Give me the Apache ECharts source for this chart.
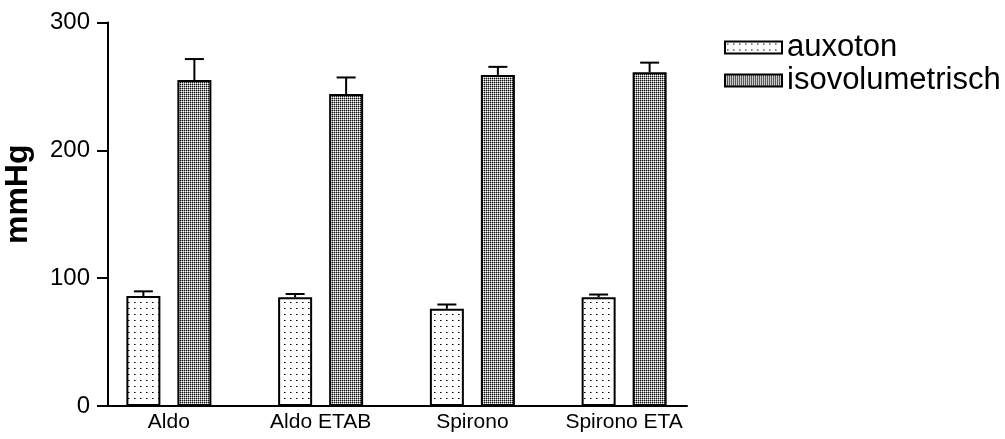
<!DOCTYPE html>
<html>
<head>
<meta charset="utf-8">
<style>
  html, body { margin: 0; padding: 0; background: #fff; }
  #chart { width: 1005px; height: 439px; }
</style>
<script src="https://cdn.jsdelivr.net/npm/echarts@6/dist/echarts.min.js"></script>
</head>
<body>
<div id="chart"></div>
<script>
// Pressure per protocol (mean and upper SEM)
const categories = ['Aldo', 'Aldo ETAB', 'Spirono', 'Spirono ETA'];
const seriesNames = ['auxoton', 'isovolumetrisch'];
const auxoton = [86, 85, 76, 85];
const auxotonErr = [3.7, 2.6, 3.4, 2.2];
const isovol = [255, 244, 259, 261];
const isovolErr = [16.4, 13, 6.3, 7.6];
const yTicks = [0, 100, 200, 300];

const FONT = '"Liberation Sans", Arial, Helvetica, sans-serif';
const BAR_W = 34;           // px
const BAR_GAP = '50%';
const HALF_OFFSET = BAR_W * 0.75; // centre of each bar relative to the category centre

// Dot-fill textures drawn on small tiles
function makeTile(size, pixels) {
  const c = document.createElement('canvas');
  c.width = size; c.height = size;
  const ctx = c.getContext('2d');
  ctx.fillStyle = '#fff';
  ctx.fillRect(0, 0, size, size);
  pixels.forEach(([x, y, col]) => { ctx.fillStyle = col; ctx.fillRect(x, y, 1, 1); });
  return c;
}
const sparseDots = makeTile(6, [[2, 2, '#000'], [3, 2, '#777']]);
const denseDots = makeTile(2, [[0, 0, '#111'], [1, 0, '#999'], [0, 1, '#999']]);

function errorSeries(values, errs, side) {
  return {
    type: 'custom',
    xAxisIndex: 0,
    yAxisIndex: 0,
    silent: true,
    z: 1,
    data: values.map((v, i) => [i, v, errs[i]]),
    renderItem(params, api) {
      const i = api.value(0);
      const top = api.coord([i, api.value(1)]);
      const cap = api.coord([i, api.value(1) + api.value(2)]);
      const x = top[0] + side * HALF_OFFSET;
      const style = { stroke: '#000', lineWidth: 2 };
      return {
        type: 'group',
        children: [
          { type: 'line', shape: { x1: x, y1: top[1], x2: x, y2: cap[1] }, style },
          { type: 'line', shape: { x1: x - 9.5, y1: cap[1], x2: x + 9.5, y2: cap[1] }, style }
        ]
      };
    }
  };
}

const chart = echarts.init(document.getElementById('chart'), null, { renderer: 'canvas' });
chart.setOption({
  animation: false,
  backgroundColor: '#fff',
  textStyle: { fontFamily: FONT, color: '#000' },
  grid: [
    { left: 93, right: 305, top: 22.5, bottom: 33, outerBoundsMode: 'none' },   // bars
    { left: 108, right: 318, top: 22.5, bottom: 33, outerBoundsMode: 'none' }   // visible axes
  ],
  legend: {
    orient: 'vertical',
    left: 719,
    top: 27,
    itemWidth: 57,
    itemHeight: 12,
    itemGap: 2,
    icon: 'rect',
    textStyle: { fontFamily: FONT, fontSize: 31, lineHeight: 31, color: '#000' },
    data: seriesNames
  },
  xAxis: [
    {
      type: 'category', gridIndex: 0, data: categories,
      axisLine: { show: false }, axisTick: { show: false },
      axisLabel: { interval: 0, fontFamily: FONT, fontSize: 21, color: '#000', margin: 6 }
    },
    {
      type: 'category', gridIndex: 1, data: categories,
      axisLine: { show: true, lineStyle: { color: '#000', width: 2 } },
      axisTick: { show: false }, axisLabel: { show: false }
    }
  ],
  yAxis: [
    {
      type: 'value', gridIndex: 0, min: yTicks[0], max: yTicks[yTicks.length - 1],
      interval: 100, show: false, splitLine: { show: false }
    },
    {
      type: 'value', gridIndex: 1, min: yTicks[0], max: yTicks[yTicks.length - 1],
      interval: 100,
      name: 'mmHg', nameLocation: 'middle', nameGap: 74,
      nameTextStyle: { fontFamily: FONT, fontSize: 32, fontWeight: 'bold', color: '#000', padding: [0, 0, 0, 40] },
      axisLine: { show: true, lineStyle: { color: '#000', width: 2 } },
      axisTick: { show: true, length: 11, lineStyle: { color: '#000', width: 2 } },
      axisLabel: { fontFamily: FONT, fontSize: 24, color: '#000', margin: 18 },
      splitLine: { show: false }
    }
  ],
  series: [
    {
      name: seriesNames[0], type: 'bar', xAxisIndex: 0, yAxisIndex: 0,
      data: auxoton, barWidth: BAR_W, barGap: BAR_GAP, z: 2,
      itemStyle: { color: { image: sparseDots, repeat: 'repeat' }, borderColor: '#000', borderWidth: 2 }
    },
    {
      name: seriesNames[1], type: 'bar', xAxisIndex: 0, yAxisIndex: 0,
      data: isovol, barWidth: BAR_W, barGap: BAR_GAP, z: 2,
      itemStyle: { color: { image: denseDots, repeat: 'repeat' }, borderColor: '#000', borderWidth: 2 }
    },
    errorSeries(auxoton, auxotonErr, -1),
    errorSeries(isovol, isovolErr, 1)
  ]
});
</script>
</body>
</html>
